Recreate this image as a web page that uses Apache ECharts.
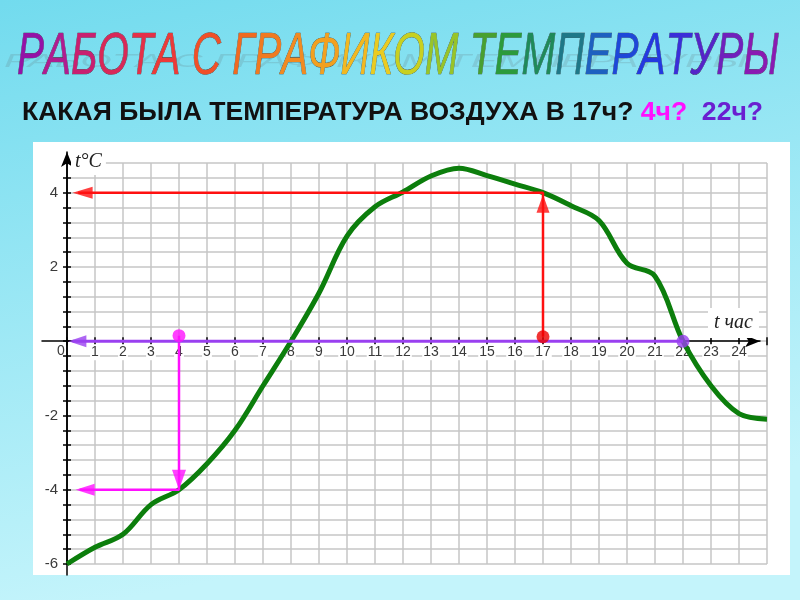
<!DOCTYPE html>
<html><head><meta charset="utf-8">
<script src="https://cdn.jsdelivr.net/npm/echarts@6/dist/echarts.min.js"></script>
<style>html,body{margin:0;padding:0;width:800px;height:600px;overflow:hidden}#c{width:800px;height:600px}</style>
</head><body><div id="c"></div>
<script>
// ---- data ----
const titleText = 'РАБОТА С ГРАФИКОМ ТЕМПЕРАТУРЫ';
const questionMain = 'КАКАЯ БЫЛА ТЕМПЕРАТУРА ВОЗДУХА В 17ч?';
const questionB = '4ч?';
const questionC = '22ч?';
const yAxisName = 't°C';
const xAxisName = 't час';
const hours = [0,1,2,3,4,5,6,7,8,9,10,11,12,13,14,15,16,17,18,19,20,21,22,23,24,25];
const tempC = [-6.0,-5.55,-5.2,-4.4,-4.0,-3.3,-2.4,-1.2,0.0,1.3,2.83,3.62,4.02,4.45,4.66,4.46,4.23,4.0,3.65,3.25,2.1,1.75,0.0,-1.2,-1.95,-2.1];
const yLabelValues = [-6,-4,-2,2,4];
const redPath = [[17,0.12],[17,4],[0.4,4]];
const magentaPath = [[4,0.15],[4,-4],[0.45,-4]];
const purplePath = [[22,0],[0.2,0]];
const redDot = [17,0.12];
const magentaDot = [4,0.15];
const purpleDot = [22,0];
const redArrowUp = [17,4];
const redArrowLeft = [0.2,4];
const magentaArrowDown = [4,-4];
const magentaArrowLeft = [0.29,-4];
const purpleArrowLeft = [0.05,0];

// ---- styles ----
const titleColors = ['#9412a6','#b01c90','#c82070','#d82858','#e43048','#ec3a38','#000',
  '#f05028','#000','#f06a20','#f07a20','#f28a20','#f2a020','#f2b820','#eacb20','#c8d020','#98c428','#000',
  '#48a030','#2c9a3c','#1f8a5a','#1e7888','#1e60c0','#1e48d8','#2438e0','#3a2ed8','#5424c8','#7020bc','#8a1ab2'];

function measure(font, text){
  const cv = document.createElement('canvas').getContext('2d');
  cv.font = font; return cv.measureText(text).width;
}
const titleFont = 'italic 60px "Liberation Sans"';
const titleScale = 744 / measure(titleFont, titleText);
const titleRich = {};
const titleChars = Array.from(titleText);
titleChars.forEach((ch,i)=>{ titleRich['c'+i] = {font:titleFont, fill:titleColors[i], stroke:'#3a3a3a', lineWidth:0.6}; });
const titleRichText = titleChars.map((ch,i)=>'{c'+i+'|'+ch+'}').join('');

const qFont = 'bold 25px "Liberation Sans"';
const qFull = questionMain + ' ' + questionB + '  ' + questionC;
const qScale = 741 / measure(qFont, qFull);

const top0 = 163, h0 = 401, ymin = -6, ymax = 4.8;
const zeroPx = top0 + h0 * ymax / (ymax - ymin);
const gridColor = '#c6c6c6';
const lblStyle = {fontFamily:'Liberation Sans', fontSize:14, color:'#3a3a3a'};
const hidden = {show:false};

const option = {
  animation:false,
  backgroundColor:{type:'linear',x:0,y:0,x2:0.15,y2:1,colorStops:[{offset:0,color:'#72dbee'},{offset:1,color:'#c4f4fb'}]},
  grid:[
    {left:67, top:top0, width:700, height:h0},                 // 0 main plot
    {left:42, top:top0, width:718, height:zeroPx-top0},        // 1 x axis line with arrow
    {left:67, top:152, width:700, height:423},                 // 2 y axis line with arrow
    {left:67, top:top0, width:700, height:zeroPx-top0},        // 3 x labels + lower ticks
    {left:67, top:zeroPx, width:700, height:top0+h0-zeroPx}    // 4 upper ticks
  ],
  xAxis:[
    {gridIndex:0, type:'value', min:0, max:25, interval:1,
     axisLine:{show:false, onZero:false}, axisTick:hidden, axisLabel:hidden,
     splitLine:{show:true, lineStyle:{color:gridColor, width:1.5}}},
    {gridIndex:1, type:'value', min:0, max:1, position:'bottom',
     axisLine:{show:true, onZero:false, symbol:['none','arrow'], symbolSize:[9,15], lineStyle:{color:'#000', width:1.5}},
     axisTick:hidden, axisLabel:hidden, splitLine:hidden},
    {gridIndex:2, type:'value', min:0, max:25, show:false},
    {gridIndex:3, type:'value', min:0, max:25, interval:1, position:'bottom',
     axisLine:{show:false, onZero:false},
     axisTick:{show:true, length:4, lineStyle:{color:'#000', width:1.5}},
     axisLabel:{margin:3, formatter:function(v){ if(v===0) return '{z|0}'; if(v>=1&&v<=24) return '{n|'+v+'}'; return ''; },
       rich:{n:Object.assign({backgroundColor:'#fff', padding:[1,1,1,1]}, lblStyle),
             z:Object.assign({padding:[0,12,0,0]}, lblStyle)}},
     splitLine:hidden},
    {gridIndex:4, type:'value', min:0, max:25, interval:1, position:'top',
     axisLine:{show:false, onZero:false},
     axisTick:{show:true, length:4, lineStyle:{color:'#000', width:1.5}},
     axisLabel:hidden, splitLine:hidden}
  ],
  yAxis:[
    {gridIndex:0, type:'value', min:ymin, max:ymax, interval:0.4, position:'left',
     axisLine:{show:true, onZero:false, lineStyle:{color:'#000', width:1.5}},
     axisTick:{show:true, length:4, lineStyle:{color:'#000', width:1.5}},
     axisLabel:Object.assign({margin:9, formatter:function(v){ const r=Math.round(v); if(Math.abs(v-r)<1e-6 && yLabelValues.indexOf(r)>=0) return String(r); return ''; }}, lblStyle, {fontSize:15}),
     splitLine:{show:true, lineStyle:{color:gridColor, width:1.5}}},
    {gridIndex:0, type:'value', min:ymin, max:ymax, interval:0.4, position:'left',
     axisLine:{show:false, onZero:false},
     axisTick:{show:true, inside:true, length:4, lineStyle:{color:'#000', width:1.5}},
     axisLabel:hidden, splitLine:hidden},
    {gridIndex:1, type:'value', min:0, max:1, show:false},
    {gridIndex:2, type:'value', min:0, max:1, position:'left',
     axisLine:{show:true, onZero:false, symbol:['none','arrow'], symbolSize:[9,15], lineStyle:{color:'#000', width:1.5}},
     axisTick:hidden, axisLabel:hidden, splitLine:hidden},
    {gridIndex:3, type:'value', min:0, max:1, show:false},
    {gridIndex:4, type:'value', min:0, max:1, show:false}
  ],
  series:[
    {type:'line', xAxisIndex:0, yAxisIndex:0, z:3, smooth:0.35, symbol:'none',
     lineStyle:{color:'#0c7e0c', width:5}, data:hours.map((h,i)=>[h,tempC[i]])},
    {type:'line', xAxisIndex:0, yAxisIndex:0, z:4, symbol:'none', lineStyle:{color:'#ff1010', width:2.5}, data:redPath},
    {type:'line', xAxisIndex:0, yAxisIndex:0, z:4, symbol:'none', lineStyle:{color:'#ff10ff', width:2.5}, data:magentaPath},
    {type:'line', xAxisIndex:0, yAxisIndex:0, z:4, symbol:'none', lineStyle:{color:'#9a40f0', width:3}, data:purplePath},
    {type:'scatter', xAxisIndex:0, yAxisIndex:0, z:5, symbol:'triangle', data:[
      {value:redArrowUp, symbolSize:[13,18], symbolRotate:0, symbolOffset:[0,11], itemStyle:{color:'#ff1010'}},
      {value:redArrowLeft, symbolSize:[12,20], symbolRotate:90, symbolOffset:[10,0], itemStyle:{color:'#ff1010'}},
      {value:magentaArrowDown, symbolSize:[14,20], symbolRotate:180, symbolOffset:[0,-10], itemStyle:{color:'#ff10ff'}},
      {value:magentaArrowLeft, symbolSize:[12,19], symbolRotate:90, symbolOffset:[10,0], itemStyle:{color:'#ff10ff'}},
      {value:purpleArrowLeft, symbolSize:[12,18], symbolRotate:90, symbolOffset:[9,0], itemStyle:{color:'#9a40f0'}}
    ]},
    {type:'scatter', xAxisIndex:0, yAxisIndex:0, z:6, symbol:'circle', symbolSize:13, data:[
      {value:redDot, itemStyle:{color:'#ee0000'}},
      {value:magentaDot, itemStyle:{color:'#ff10ff'}},
      {value:purpleDot, itemStyle:{color:'#9a40f0'}}
    ]}
  ],
  graphic:[
    {type:'rect', z:-100, shape:{x:33,y:142,width:757,height:433}, style:{fill:'#fff'}},
    {type:'text', z:1, x:4, y:62, scaleX:titleScale, scaleY:0.3,
     style:{text:titleText, font:titleFont, fill:'rgba(90,90,90,0.16)', textVerticalAlign:'middle', shadowBlur:6, shadowColor:'rgba(90,90,90,0.35)'}},
    {type:'text', z:2, x:17, y:57, scaleX:titleScale,
     style:{text:titleRichText, font:titleFont, textVerticalAlign:'middle', rich:titleRich}},
    {type:'text', z:2, x:22, y:113, scaleX:qScale,
     style:{text:'{a|'+questionMain+'} {b|'+questionB+'}  {c|'+questionC+'}', font:qFont, textVerticalAlign:'middle',
       rich:{a:{fill:'#111', font:qFont}, b:{fill:'#ff10ff', font:qFont}, c:{fill:'#6a1fd0', font:qFont}}}},
    {type:'text', z:50, x:71, y:162,
     style:{text:yAxisName, font:'italic 20px "Liberation Serif"', fill:'#222', textVerticalAlign:'middle', backgroundColor:'#fff', padding:[3,4]}},
    {type:'text', z:50, x:708, y:323,
     style:{text:xAxisName, font:'italic 20px "Liberation Serif"', fill:'#222', textVerticalAlign:'middle', backgroundColor:'#fff', padding:[5,6]}}
  ]
};
const chart = echarts.init(document.getElementById('c'), null, {renderer:'canvas'});
chart.setOption(option);
</script>
</body></html>
